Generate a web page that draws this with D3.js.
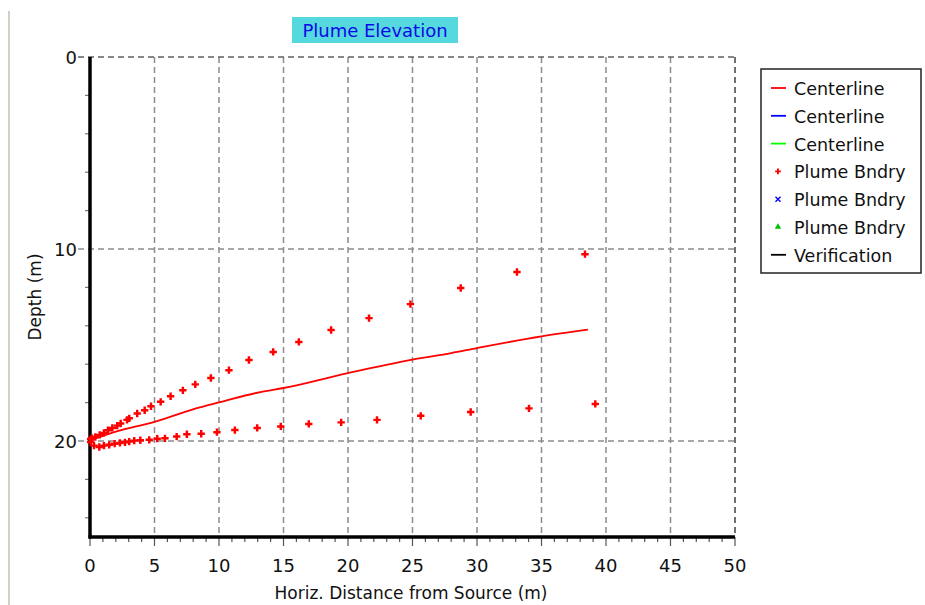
<!DOCTYPE html>
<html>
<head>
<meta charset="utf-8">
<script src="https://cdn.jsdelivr.net/npm/d3@7"></script>
<style>
  body { margin: 0; background: #fff; }
  text { font-family: "DejaVu Sans", sans-serif; }
</style>
</head>
<body>
<svg width="925" height="605"></svg>
<script>
// centerline (x = horiz distance, m ; depth, m)
const centerX = [0, 0.5, 1.8, 5, 8.5, 10, 13.2, 15, 20, 25, 28, 30, 35, 38.6];
const centerDepth = [19.92, 19.85, 19.55, 19.0, 18.25, 17.99, 17.45, 17.24, 16.46, 15.76, 15.42, 15.16, 14.55, 14.2];

// upper plume boundary
const upperX = [0.05, 0.15, 0.41, 0.75, 1.08, 1.39, 1.73, 2.11, 2.38, 2.87, 3.04, 3.66, 4.24, 4.73, 5.48, 6.25, 7.2, 8.16, 9.37, 10.77, 12.32, 14.2, 16.19, 18.69, 21.63, 24.84, 28.74, 33.1, 38.37];
const upperDepth = [19.9, 19.85, 19.79, 19.68, 19.58, 19.44, 19.32, 19.2, 19.09, 18.9, 18.82, 18.57, 18.4, 18.19, 17.96, 17.67, 17.36, 17.05, 16.72, 16.31, 15.78, 15.36, 14.84, 14.22, 13.6, 12.87, 12.03, 11.2, 10.27];

// lower plume boundary
const lowerX = [0.05, 0.31, 0.72, 1.08, 1.49, 1.91, 2.32, 2.71, 3.04, 3.43, 3.9, 4.59, 5.21, 5.81, 6.72, 7.51, 8.62, 9.84, 11.23, 12.96, 14.79, 16.96, 19.47, 22.25, 25.64, 29.51, 34.03, 39.17];
const lowerDepth = [20.05, 20.24, 20.31, 20.24, 20.2, 20.14, 20.1, 20.07, 20.03, 19.98, 19.96, 19.94, 19.88, 19.86, 19.77, 19.65, 19.62, 19.54, 19.43, 19.32, 19.24, 19.11, 19.03, 18.9, 18.69, 18.49, 18.3, 18.07];

const xTicks = [0, 5, 10, 15, 20, 25, 30, 35, 40, 45, 50];
const yTicks = [0, 10, 20];
const legendLabels = ['Centerline', 'Centerline', 'Centerline', 'Plume Bndry', 'Plume Bndry', 'Plume Bndry', 'Verification'];
const legendKinds = ['line', 'line', 'line', 'cross', 'times', 'triangle', 'line'];
const legendColors = ['#ff0000', '#0000ff', '#00ff00', '#ff0000', '#0000ff', '#00c000', '#000000'];

const svg = d3.select('svg');

const x = d3.scaleLinear().domain([0, 50]).range([90, 735]);
const y = d3.scaleLinear().domain([0, 25]).range([57, 537]);

// window frame line on left
svg.append('line')
  .attr('x1', 9).attr('x2', 9).attr('y1', 11).attr('y2', 605)
  .attr('stroke', '#d4d0c8').attr('stroke-width', 2);

// title
svg.append('rect')
  .attr('x', 292).attr('y', 17).attr('width', 166).attr('height', 26)
  .attr('fill', '#56d8df');
svg.append('text')
  .attr('x', 375).attr('y', 37)
  .attr('text-anchor', 'middle')
  .attr('font-size', 18)
  .attr('fill', '#0a0ae6')
  .text('Plume Elevation');

// grid
const grid = svg.append('g');
grid.selectAll('.vgrid')
  .data(xTicks.slice(1))
  .enter()
  .append('line')
  .classed('vgrid', true)
  .attr('x1', d => x(d)).attr('x2', d => x(d))
  .attr('y1', y(0)).attr('y2', y(25))
  .attr('stroke', d => d === 50 ? '#404040' : '#8c8c8c')
  .attr('stroke-width', 1.5)
  .attr('stroke-dasharray', '6,4');

grid.selectAll('.hgrid')
  .data(yTicks)
  .enter()
  .append('line')
  .classed('hgrid', true)
  .attr('x1', x(0) - 12).attr('x2', x(50))
  .attr('y1', d => y(d)).attr('y2', d => y(d))
  .attr('stroke', d => d === 0 ? '#606060' : '#8c8c8c')
  .attr('stroke-width', 1.5)
  .attr('stroke-dasharray', '6,4');

// minor ticks
svg.selectAll('.xminor')
  .data(d3.range(0, 51, 1))
  .enter()
  .append('line')
  .classed('xminor', true)
  .attr('x1', d => x(d)).attr('x2', d => x(d))
  .attr('y1', y(25)).attr('y2', d => y(25) + (d % 5 === 0 ? 9 : 5))
  .attr('stroke', '#555').attr('stroke-width', 1.2);

svg.selectAll('.yminor')
  .data(d3.range(2, 25, 2).filter(d => d % 10 !== 0))
  .enter()
  .append('line')
  .classed('yminor', true)
  .attr('x1', x(0) - 5).attr('x2', x(0))
  .attr('y1', d => y(d)).attr('y2', d => y(d))
  .attr('stroke', '#777').attr('stroke-width', 1.2);

// axis lines
svg.append('line')
  .attr('x1', x(0)).attr('x2', x(0)).attr('y1', y(0)).attr('y2', y(25) + 1.5)
  .attr('stroke', '#000').attr('stroke-width', 3.5);
svg.append('line')
  .attr('x1', x(0) - 1.5).attr('x2', x(50)).attr('y1', y(25)).attr('y2', y(25))
  .attr('stroke', '#000').attr('stroke-width', 3.5);

// tick labels
svg.selectAll('.xlab')
  .data(xTicks)
  .enter()
  .append('text')
  .classed('xlab', true)
  .attr('x', d => x(d)).attr('y', 572)
  .attr('text-anchor', 'middle')
  .attr('font-size', 18)
  .attr('fill', '#111')
  .text(d => d);

svg.selectAll('.ylab')
  .data(yTicks)
  .enter()
  .append('text')
  .classed('ylab', true)
  .attr('x', 77).attr('y', d => y(d) + 7)
  .attr('text-anchor', 'end')
  .attr('font-size', 18)
  .attr('fill', '#111')
  .text(d => d);

// axis titles
svg.append('text')
  .attr('x', 411).attr('y', 599)
  .attr('text-anchor', 'middle')
  .attr('font-size', 17)
  .attr('fill', '#111')
  .text('Horiz. Distance from Source (m)');

svg.append('text')
  .attr('transform', `translate(41,${(y(0) + y(25)) / 2}) rotate(-90)`)
  .attr('text-anchor', 'middle')
  .attr('font-size', 17)
  .attr('fill', '#111')
  .text('Depth (m)');

// centerline
const line = d3.line()
  .curve(d3.curveMonotoneX)
  .x(d => x(d[0]))
  .y(d => y(d[1]));

svg.append('path')
  .datum(d3.zip(centerX, centerDepth))
  .attr('d', line)
  .attr('fill', 'none')
  .attr('stroke', '#ff0000')
  .attr('stroke-width', 1.8);

// plume boundary markers
const cross = d3.symbol().type(d3.symbolCross).size(30);
const bndry = d3.zip(upperX, upperDepth).concat(d3.zip(lowerX, lowerDepth));
svg.selectAll('.bndry')
  .data(bndry)
  .enter()
  .append('path')
  .classed('bndry', true)
  .attr('d', cross)
  .attr('transform', d => `translate(${x(d[0])},${y(d[1])})`)
  .attr('fill', '#ff0000');

// legend
const legend = svg.append('g');
legend.append('rect')
  .attr('x', 761).attr('y', 69).attr('width', 160).attr('height', 204)
  .attr('fill', '#fff')
  .attr('stroke', '#222').attr('stroke-width', 1.5);

const symbolFor = { cross: d3.symbolCross, times: d3.symbolTimes, triangle: d3.symbolTriangle };

legend.selectAll('.row')
  .data(legendLabels)
  .enter()
  .append('g')
  .classed('row', true)
  .attr('transform', (d, i) => `translate(0,${88 + i * 27.8})`)
  .each(function (d, i) {
    const g = d3.select(this);
    const kind = legendKinds[i];
    if (kind === 'line') {
      g.append('line')
        .attr('x1', 771).attr('x2', 786).attr('y1', 0).attr('y2', 0)
        .attr('stroke', legendColors[i])
        .attr('stroke-width', 1.8);
    } else {
      const p = g.append('path')
        .attr('d', d3.symbol().type(symbolFor[kind]).size(kind === 'times' ? 18 : 18))
        .attr('transform', 'translate(778,0)');
      if (kind === 'times') {
        p.attr('fill', 'none').attr('stroke', legendColors[i]).attr('stroke-width', 1.4);
      } else {
        p.attr('fill', legendColors[i]);
      }
    }
    g.append('text')
      .attr('x', 794).attr('y', 7)
      .attr('font-size', 17.5)
      .attr('fill', '#111')
      .text(d);
  });
</script>
</body>
</html>
